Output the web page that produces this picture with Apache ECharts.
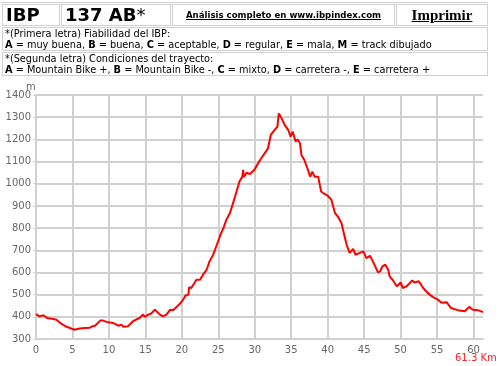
<!DOCTYPE html>
<html>
<head>
<meta charset="utf-8">
<script src="https://cdn.jsdelivr.net/npm/echarts@6/dist/echarts.min.js"></script>
<style>
  html, body { margin: 0; padding: 0; background: #fff; }
  #chart { position: absolute; left: 0; top: 0; width: 500px; height: 366px; }
  #head { position: absolute; left: 1px; top: 3px; width: 488px; font-family: "DejaVu Sans", Verdana, sans-serif; color: #000; }
  #head table { border-collapse: separate; border-spacing: 1px; width: 100%; }
  #head td { border: 1px solid #d0d0d0; padding: 0 3px; white-space: nowrap; }
  .big { font-weight: bold; font-size: 18px; height: 20px; line-height: 20px; }
  .lnk { font-weight: bold; font-size: 8.6px; text-decoration: underline; text-align: center; }
  .prt { font-family: "Liberation Serif", serif; font-weight: bold; font-size: 15px; text-decoration: underline; text-align: center; }
  .txt { font-size: 9.75px; line-height: 11px; padding: 0 2px !important; }
  #topline { position: absolute; left: 1px; top: 0; width: 487px; height: 2px; border-bottom: 1px solid #d0d0d0; }
</style>
</head>
<body>
<div id="chart"></div>
<div id="topline"></div>
<div id="head">
  <table>
    <tr>
      <td class="big" style="width:50px">IBP</td>
      <td class="big" style="width:102px">137 AB<span style="font-weight:normal">*</span></td>
      <td class="lnk" style="width:215px">Análisis completo en www.ibpindex.com</td>
      <td class="prt">Imprimir</td>
    </tr>
  </table>
  <table style="margin-top:-1px">
    <tr><td class="txt">*(Primera letra) Fiabilidad del IBP:<br><b>A</b> = muy buena, <b>B</b> = buena, <b>C</b> = aceptable, <b>D</b> = regular, <b>E</b> = mala, <b>M</b> = track dibujado</td></tr>
    <tr><td class="txt">*(Segunda letra) Condiciones del trayecto:<br><b>A</b> = Mountain Bike +, <b>B</b> = Mountain Bike -, <b>C</b> = mixto, <b>D</b> = carretera -, <b>E</b> = carretera +</td></tr>
  </table>
</div>
<script>
// distance (km) and elevation (m)
const km = [
  0, 0.45, 1.0, 1.5, 2.4, 2.8, 3.5, 4.2, 4.9, 5.3,
  6.0, 6.7, 7.4, 7.7, 8.1, 8.8, 9.2, 9.7, 10.6, 11.3,
  11.7, 12.0, 12.6, 13.3, 14.2, 14.7, 14.9, 15.4, 15.8, 16.3,
  16.5, 17.0, 17.4, 17.9, 18.4, 18.8, 19.3, 19.7, 20.2, 20.5,
  20.9, 21.0, 21.3, 22.0, 22.5, 22.9, 23.4, 23.8, 24.3, 24.8,
  25.4, 25.7, 26.1, 26.6, 27.3, 27.7, 27.9, 28.3, 28.4, 28.5,
  28.9, 29.3, 29.5, 30.0, 30.5, 30.9, 31.1, 31.8, 32.2, 32.7,
  33.1, 33.3, 33.6, 33.8, 34.1, 34.6, 34.9, 35.2, 35.6, 35.9,
  36.2, 36.4, 36.8, 37.3, 37.6, 37.9, 38.2, 38.7, 39.1, 39.5,
  40.0, 40.5, 41.0, 41.4, 41.9, 42.1, 42.6, 43.0, 43.5, 43.8,
  44.4, 44.9, 45.3, 45.8, 46.2, 46.9, 47.2, 47.5, 47.9, 48.3,
  48.5, 48.9, 49.5, 50.0, 50.3, 50.8, 51.6, 51.9, 52.5, 53.1,
  53.7, 54.4, 55.1, 55.6, 56.3, 56.9, 57.8, 58.8, 59.4, 59.9,
  60.6, 61.3
];
const elev = [
  412, 402, 407, 395, 390, 387, 368, 355, 346, 342,
  347, 350, 351, 357, 360, 383, 383, 377, 372, 360,
  365, 355, 357, 380, 395, 410, 400, 410, 415, 432,
  432, 410, 402, 410, 432, 430, 445, 458, 478, 496,
  500, 533, 530, 567, 567, 590, 612, 650, 680, 725,
  778, 800, 837, 868, 942, 987, 1010, 1032, 1063, 1030,
  1050, 1043, 1048, 1065, 1095, 1115, 1125, 1158, 1220, 1242,
  1257, 1317, 1300, 1302, 1265, 1242, 1212, 1235, 1190, 1200,
  1182, 1130, 1107, 1062, 1032, 1055, 1032, 1032, 965, 955,
  946, 928, 868, 852, 822, 793, 725, 688, 706, 680,
  688, 695, 665, 675, 650, 601, 605, 627, 635, 612,
  582, 567, 537, 555, 530, 537, 564, 555, 560, 530,
  508, 490, 478, 463, 466, 440, 430, 425, 445, 432,
  430, 421
];
const totalKm = 61.3;

const chart = echarts.init(document.getElementById('chart'), null, { renderer: 'canvas' });
const gridColor = '#d0d0d0';
const labelStyle = { color: '#666', fontSize: 10, fontFamily: 'DejaVu Sans' };

chart.setOption({
  animation: false,
  backgroundColor: '#fff',
  grid: { left: 36, top: 95, right: 17, bottom: 27, outerBoundsMode: 'none' },
  xAxis: {
    type: 'value', min: 0, max: totalKm, interval: 5,
    axisLine: { show: true, lineStyle: { color: gridColor, width: 2 } },
    axisTick: { show: false },
    axisLabel: Object.assign({ showMaxLabel: false, margin: 6, formatter: v => String(v) }, labelStyle),
    splitLine: { show: true, showMaxLine: false, lineStyle: { color: gridColor, width: 2 } }
  },
  yAxis: {
    type: 'value', min: 300, max: 1400, interval: 100,
    axisLine: { show: true, lineStyle: { color: gridColor, width: 2 } },
    axisTick: { show: true, length: 3, lineStyle: { color: gridColor } },
    axisLabel: Object.assign({ margin: 5, formatter: v => String(v) }, labelStyle),
    splitLine: { show: true, lineStyle: { color: gridColor, width: 2 } }
  },
  graphic: [
    { type: 'text', left: 26, top: 82, style: { text: 'm', fill: '#666', fontSize: 10, fontFamily: 'DejaVu Sans' } },
    { type: 'text', left: 455, top: 353, style: { text: totalKm + ' Km', fill: '#ff2020', fontSize: 10, fontFamily: 'DejaVu Sans' } }
  ],
  series: [{
    type: 'line',
    data: km.map((d, i) => [d, elev[i]]),
    showSymbol: false,
    lineStyle: { color: '#ff0000', width: 2 },
    z: 5
  }]
});
</script>
</body>
</html>
